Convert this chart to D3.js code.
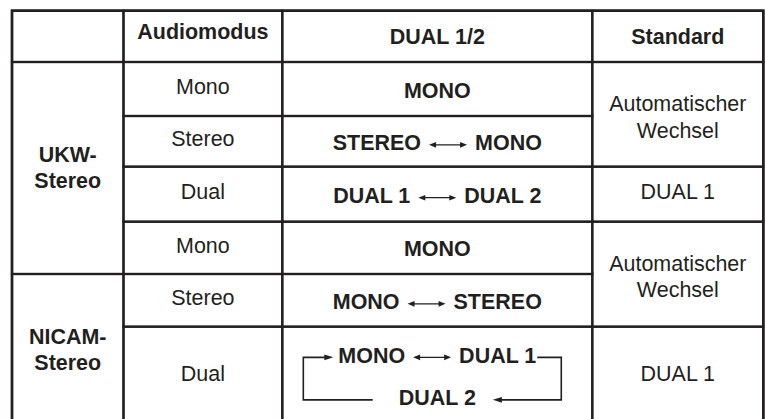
<!DOCTYPE html>
<html><head><meta charset="utf-8">
<script src="https://cdn.jsdelivr.net/npm/d3@7"></script>
<style>html,body{margin:0;padding:0;background:#fff;} svg{display:block}</style>
</head><body>
<svg id="chart" width="765" height="419"></svg>
<script>
// ---- data ----
const headers = ["", "Audiomodus", "DUAL 1/2", "Standard"];
const groupLabels = [["UKW-", "Stereo"], ["NICAM-", "Stereo"]];
const groupSpans = [4, 2];
const audioModes = ["Mono", "Stereo", "Dual", "Mono", "Stereo", "Dual"];
const dualSequences = [["MONO"], ["STEREO", "MONO"], ["DUAL 1", "DUAL 2"], ["MONO"], ["MONO", "STEREO"], ["MONO", "DUAL 1", "DUAL 2"]];
const standardLabels = [["Automatischer", "Wechsel"], ["DUAL 1"], ["Automatischer", "Wechsel"], ["DUAL 1"]];
const standardSpans = [2, 1, 2, 1];

// ---- layout ----
const colEdges = [12, 123.5, 282.3, 592.3, 763.3];
const rowEdges = [10.7, 62, 116, 166.7, 221.7, 274, 326.7, 425];
const headerDy = [0, 2.5, 7.5, 7.5];
const INK = "#231f20";
const FONT = "'Liberation Sans', Arial, Helvetica, sans-serif";
const FS = 22.5;
const SX = 0.955;

const x = d3.scaleOrdinal().domain(d3.range(colEdges.length)).range(colEdges);
const y = d3.scaleOrdinal().domain(d3.range(rowEdges.length)).range(rowEdges);

const svg = d3.select("#chart");
svg.append("rect").attr("width", 765).attr("height", 419).attr("fill", "#fff");
const gLines = svg.append("g");
const gText = svg.append("g").attr("fill", INK).attr("font-family", FONT).attr("font-size", FS);

// build cells
const cells = [];
headers.forEach((h, c) => cells.push({r0: 0, r1: 1, c0: c, c1: c + 1}));
let r = 1;
groupSpans.forEach(s => { cells.push({r0: r, r1: r + s, c0: 0, c1: 1}); r += s; });
audioModes.forEach((m, i) => cells.push({r0: i + 1, r1: i + 2, c0: 1, c1: 2}));
dualSequences.forEach((m, i) => cells.push({r0: i + 1, r1: i + 2, c0: 2, c1: 3}));
r = 1;
standardSpans.forEach(s => { cells.push({r0: r, r1: r + s, c0: 3, c1: 4}); r += s; });

gLines.selectAll("rect.cell").data(cells).join("rect")
  .attr("class", "cell")
  .attr("x", d => x(d.c0)).attr("y", d => y(d.r0))
  .attr("width", d => x(d.c1) - x(d.c0)).attr("height", d => y(d.r1) - y(d.r0))
  .attr("fill", "none").attr("stroke", INK).attr("stroke-width", 2.2);
gLines.append("rect")
  .attr("x", x(0)).attr("y", y(0))
  .attr("width", x(4) - x(0)).attr("height", y(7) - y(0))
  .attr("fill", "none").attr("stroke", INK).attr("stroke-width", 2.6);

const cx = c => (x(c) + x(c + 1)) / 2;
const cy = (r0, r1) => (y(r0) + y(r1)) / 2;

function txt(str, px, base, bold, anchor) {
  return gText.append("text")
    .attr("transform", `translate(${px},${base}) scale(${SX},1)`)
    .attr("text-anchor", anchor || "middle")
    .attr("font-weight", bold ? "bold" : "normal").text(str);
}
function measure(str, bold) {
  const t = txt(str, 0, -100, bold, "start");
  const w = t.node().getComputedTextLength() * SX;
  t.remove();
  return w;
}
function head(tipX, yy, dir, len, h) {
  gLines.append("path")
    .attr("d", `M${tipX},${yy} L${tipX - dir * len},${yy - h} L${tipX - dir * len},${yy + h} Z`)
    .attr("fill", INK);
}
function dblArrow(x0, x1, yy) {
  gLines.append("line").attr("x1", x0 + 3).attr("x2", x1 - 3).attr("y1", yy).attr("y2", yy)
    .attr("stroke", INK).attr("stroke-width", 1.2);
  head(x0, yy, -1, 7, 2.8);
  head(x1, yy, 1, 7, 2.8);
}

// headers
headers.forEach((h, c) => { if (h) txt(h, cx(c), cy(0, 1) + headerDy[c], true); });

// group labels
r = 1;
groupLabels.forEach((lines, i) => {
  const c = cy(r, r + groupSpans[i]);
  lines.forEach((l, j) => txt(l, cx(0), c + 7 + (j - (lines.length - 1) / 2) * 26, true));
  r += groupSpans[i];
});

// audio modes
audioModes.forEach((m, i) => txt(m, cx(1), cy(i + 1, i + 2) + 5, false));

// dual sequences
const GAP = 8, ALEN = 38;
dualSequences.forEach((seq, i) => {
  const c = cx(2), mid = cy(i + 1, i + 2);
  if (seq.length === 1) {
    txt(seq[0], c, mid + 8.5, true);
  } else if (seq.length === 2) {
    const b = mid + 8.5;
    const w1 = measure(seq[0], true), w2 = measure(seq[1], true);
    const total = w1 + GAP + ALEN + GAP + w2;
    const s = c - total / 2;
    txt(seq[0], s, b, true, "start");
    dblArrow(s + w1 + GAP, s + w1 + GAP + ALEN, b - 5);
    txt(seq[1], s + w1 + GAP + ALEN + GAP, b, true, "start");
  } else {
    const b1 = mid + 8.5 - 21, b2 = mid + 8.5 + 21;
    const w1 = measure(seq[0], true), w2 = measure(seq[1], true), w3 = measure(seq[2], true);
    const total = w1 + GAP + ALEN + GAP + w2;
    const s = c - total / 2, e = s + total;
    txt(seq[0], s, b1, true, "start");
    dblArrow(s + w1 + GAP, s + w1 + GAP + ALEN, b1 - 6);
    txt(seq[1], s + w1 + GAP + ALEN + GAP, b1, true, "start");
    const s3 = c - w3 / 2, e3 = c + w3 / 2;
    txt(seq[2], s3, b2, true, "start");
    const leftX = s - 35, rightX = e + 25, yT = b1 - 6, yB = b2 - 5.5;
    // left bracket: from bottom line up and into MONO
    gLines.append("path")
      .attr("d", `M${s3 - 26},${yB} H${leftX} V${yT} H${s - 12}`)
      .attr("stroke", INK).attr("stroke-width", 1.6).attr("fill", "none");
    head(s - 5, yT, 1, 9, 2.8);
    // right bracket: from DUAL 1 down and back to DUAL 2
    gLines.append("path")
      .attr("d", `M${e + 1},${yT} H${rightX} V${yB} H${e3 + 24}`)
      .attr("stroke", INK).attr("stroke-width", 1.6).attr("fill", "none");
    head(e3 + 17, yB, -1, 9, 2.8);
  }
});

// standard
r = 1;
standardLabels.forEach((lines, i) => {
  const c = cy(r, r + standardSpans[i]);
  if (lines.length === 1) txt(lines[0], cx(3), c + 5, false);
  else lines.forEach((l, j) => txt(l, cx(3), c + 10 + (j - 0.5) * 26.5, false));
  r += standardSpans[i];
});
</script>
</body></html>
